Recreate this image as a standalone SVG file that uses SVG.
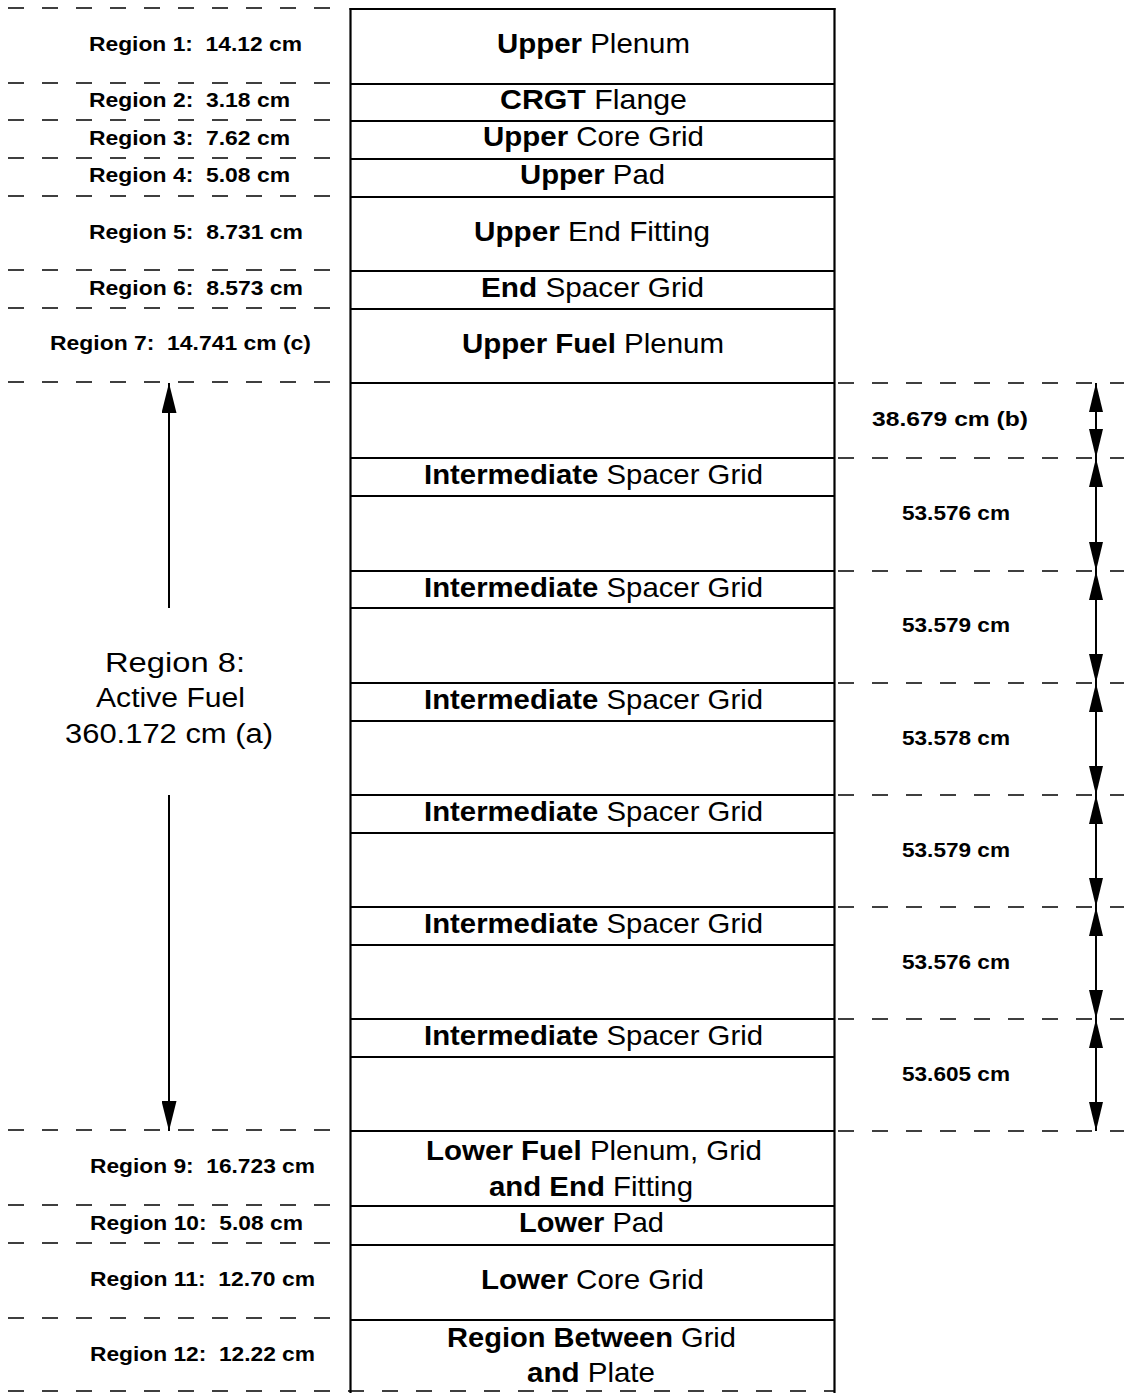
<svg xmlns="http://www.w3.org/2000/svg" width="1124" height="1393" viewBox="0 0 1124 1393">
<style>
text { font-family: "Liberation Sans", Arial, sans-serif; fill: #000; white-space: pre; }
.c { font-size: 28px; }
.b { font-weight: bold; }
.l { font-size: 21px; font-weight: bold; }
.r8 { font-size: 27px; }
.box { fill: none; stroke: #000; stroke-width: 2.2; }
.sep { stroke: #000; stroke-width: 2.2; }
.dash { stroke: #000; stroke-width: 1.5; stroke-dasharray: 16 18; fill: none; }
.arr { stroke: #000; stroke-width: 2; fill: none; }
</style>
<defs>
<marker id="ah" viewBox="0 0 29 14" refX="29" refY="7" markerWidth="29" markerHeight="14" markerUnits="userSpaceOnUse" orient="auto-start-reverse">
<path d="M0,0 L29,7 L0,14 z" fill="#000"/>
</marker>
<marker id="ahL" viewBox="0 0 30 15" refX="30" refY="7.5" markerWidth="30" markerHeight="15" markerUnits="userSpaceOnUse" orient="auto-start-reverse">
<path d="M0,0 L30,7.5 L0,15 z" fill="#000"/>
</marker>
</defs>

<g id="guides">
<line class="dash" x1="8" y1="8" x2="336" y2="8"/>
<line class="dash" x1="8" y1="83" x2="336" y2="83"/>
<line class="dash" x1="8" y1="120" x2="336" y2="120"/>
<line class="dash" x1="8" y1="158" x2="336" y2="158"/>
<line class="dash" x1="8" y1="196" x2="336" y2="196"/>
<line class="dash" x1="8" y1="270" x2="336" y2="270"/>
<line class="dash" x1="8" y1="308" x2="336" y2="308"/>
<line class="dash" x1="8" y1="382" x2="336" y2="382"/>
<line class="dash" x1="8" y1="1130" x2="336" y2="1130"/>
<line class="dash" x1="8" y1="1205" x2="336" y2="1205"/>
<line class="dash" x1="8" y1="1243" x2="336" y2="1243"/>
<line class="dash" x1="8" y1="1318" x2="336" y2="1318"/>
<line class="dash" x1="8" y1="1391" x2="834" y2="1391"/>
<line class="dash" x1="838" y1="383" x2="1124" y2="383"/>
<line class="dash" x1="838" y1="458" x2="1124" y2="458"/>
<line class="dash" x1="838" y1="571" x2="1124" y2="571"/>
<line class="dash" x1="838" y1="683" x2="1124" y2="683"/>
<line class="dash" x1="838" y1="795" x2="1124" y2="795"/>
<line class="dash" x1="838" y1="907" x2="1124" y2="907"/>
<line class="dash" x1="838" y1="1019" x2="1124" y2="1019"/>
<line class="dash" x1="838" y1="1131" x2="1124" y2="1131"/>
</g>

<g id="column">
<line class="sep" x1="350.5" y1="8" x2="350.5" y2="1393"/>
<line class="sep" x1="834.5" y1="8" x2="834.5" y2="1393"/>
<line class="sep" x1="349.5" y1="9" x2="835.5" y2="9"/>
</g>

<g id="n1"><line class="sep" x1="350" y1="84" x2="835" y2="84"/><text class="c" x="497" y="53" textLength="193" lengthAdjust="spacingAndGlyphs"><tspan class="b">Upper</tspan> Plenum</text></g>
<g id="n2"><line class="sep" x1="350" y1="121" x2="835" y2="121"/><text class="c" x="500" y="109" textLength="187" lengthAdjust="spacingAndGlyphs"><tspan class="b">CRGT</tspan> Flange</text></g>
<g id="n3"><line class="sep" x1="350" y1="159" x2="835" y2="159"/><text class="c" x="483" y="146" textLength="221" lengthAdjust="spacingAndGlyphs"><tspan class="b">Upper</tspan> Core Grid</text></g>
<g id="n4"><line class="sep" x1="350" y1="197" x2="835" y2="197"/><text class="c" x="520" y="184" textLength="145" lengthAdjust="spacingAndGlyphs"><tspan class="b">Upper</tspan> Pad</text></g>
<g id="n5"><line class="sep" x1="350" y1="271" x2="835" y2="271"/><text class="c" x="474" y="241" textLength="236" lengthAdjust="spacingAndGlyphs"><tspan class="b">Upper</tspan> End Fitting</text></g>
<g id="n6"><line class="sep" x1="350" y1="309" x2="835" y2="309"/><text class="c" x="481" y="297" textLength="223" lengthAdjust="spacingAndGlyphs"><tspan class="b">End</tspan> Spacer Grid</text></g>
<g id="n7"><line class="sep" x1="350" y1="383" x2="835" y2="383"/><text class="c" x="462" y="353" textLength="262" lengthAdjust="spacingAndGlyphs"><tspan class="b">Upper Fuel</tspan> Plenum</text></g>

<g id="grid1"><line class="sep" x1="350" y1="458" x2="835" y2="458"/><line class="sep" x1="350" y1="496" x2="835" y2="496"/><text class="c" x="424" y="484" textLength="339" lengthAdjust="spacingAndGlyphs"><tspan class="b">Intermediate</tspan> Spacer Grid</text></g>
<g id="grid2"><line class="sep" x1="350" y1="571" x2="835" y2="571"/><line class="sep" x1="350" y1="608" x2="835" y2="608"/><text class="c" x="424" y="597" textLength="339" lengthAdjust="spacingAndGlyphs"><tspan class="b">Intermediate</tspan> Spacer Grid</text></g>
<g id="grid3"><line class="sep" x1="350" y1="683" x2="835" y2="683"/><line class="sep" x1="350" y1="721" x2="835" y2="721"/><text class="c" x="424" y="709" textLength="339" lengthAdjust="spacingAndGlyphs"><tspan class="b">Intermediate</tspan> Spacer Grid</text></g>
<g id="grid4"><line class="sep" x1="350" y1="795" x2="835" y2="795"/><line class="sep" x1="350" y1="833" x2="835" y2="833"/><text class="c" x="424" y="821" textLength="339" lengthAdjust="spacingAndGlyphs"><tspan class="b">Intermediate</tspan> Spacer Grid</text></g>
<g id="grid5"><line class="sep" x1="350" y1="907" x2="835" y2="907"/><line class="sep" x1="350" y1="945" x2="835" y2="945"/><text class="c" x="424" y="933" textLength="339" lengthAdjust="spacingAndGlyphs"><tspan class="b">Intermediate</tspan> Spacer Grid</text></g>
<g id="grid6"><line class="sep" x1="350" y1="1019" x2="835" y2="1019"/><line class="sep" x1="350" y1="1057" x2="835" y2="1057"/><text class="c" x="424" y="1045" textLength="339" lengthAdjust="spacingAndGlyphs"><tspan class="b">Intermediate</tspan> Spacer Grid</text></g>

<g id="n9"><line class="sep" x1="350" y1="1131" x2="835" y2="1131"/><text class="c" x="426" y="1160" textLength="336" lengthAdjust="spacingAndGlyphs"><tspan class="b">Lower Fuel</tspan> Plenum, Grid</text><text class="c" x="489" y="1196" textLength="204" lengthAdjust="spacingAndGlyphs"><tspan class="b">and End</tspan> Fitting</text></g>
<g id="n10"><line class="sep" x1="350" y1="1206" x2="835" y2="1206"/><text class="c" x="519" y="1232" textLength="145" lengthAdjust="spacingAndGlyphs"><tspan class="b">Lower</tspan> Pad</text></g>
<g id="n11"><line class="sep" x1="350" y1="1245" x2="835" y2="1245"/><text class="c" x="481" y="1289" textLength="223" lengthAdjust="spacingAndGlyphs"><tspan class="b">Lower</tspan> Core Grid</text></g>
<g id="n12"><line class="sep" x1="350" y1="1320" x2="835" y2="1320"/><text class="c" x="447" y="1347" textLength="289" lengthAdjust="spacingAndGlyphs"><tspan class="b">Region Between</tspan> Grid</text><text class="c" x="527" y="1382" textLength="128" lengthAdjust="spacingAndGlyphs"><tspan class="b">and</tspan> Plate</text></g>

<g id="left-labels">
<text class="l" x="89" y="51" textLength="213" lengthAdjust="spacingAndGlyphs">Region 1:  14.12 cm</text>
<text class="l" x="89" y="107" textLength="201" lengthAdjust="spacingAndGlyphs">Region 2:  3.18 cm</text>
<text class="l" x="89" y="145" textLength="201" lengthAdjust="spacingAndGlyphs">Region 3:  7.62 cm</text>
<text class="l" x="89" y="182" textLength="201" lengthAdjust="spacingAndGlyphs">Region 4:  5.08 cm</text>
<text class="l" x="89" y="239" textLength="214" lengthAdjust="spacingAndGlyphs">Region 5:  8.731 cm</text>
<text class="l" x="89" y="295" textLength="214" lengthAdjust="spacingAndGlyphs">Region 6:  8.573 cm</text>
<text class="l" x="50" y="350" textLength="261" lengthAdjust="spacingAndGlyphs">Region 7:  14.741 cm (c)</text>
<text class="l" x="90" y="1173" textLength="225" lengthAdjust="spacingAndGlyphs">Region 9:  16.723 cm</text>
<text class="l" x="90" y="1230" textLength="213" lengthAdjust="spacingAndGlyphs">Region 10:  5.08 cm</text>
<text class="l" x="90" y="1286" textLength="225" lengthAdjust="spacingAndGlyphs">Region 11:  12.70 cm</text>
<text class="l" x="90" y="1361" textLength="225" lengthAdjust="spacingAndGlyphs">Region 12:  12.22 cm</text>
</g>

<g id="region8">
<text class="r8" x="105" y="672" textLength="140" lengthAdjust="spacingAndGlyphs">Region 8:</text>
<text class="r8" x="96" y="707" textLength="149" lengthAdjust="spacingAndGlyphs">Active Fuel</text>
<text class="r8" x="65" y="743" textLength="208" lengthAdjust="spacingAndGlyphs">360.172 cm (a)</text>
</g>

<g id="right-labels">
<text class="l" x="872" y="426" textLength="156" lengthAdjust="spacingAndGlyphs">38.679 cm (b)</text>
<text class="l" x="902" y="520" textLength="108" lengthAdjust="spacingAndGlyphs">53.576 cm</text>
<text class="l" x="902" y="632" textLength="108" lengthAdjust="spacingAndGlyphs">53.579 cm</text>
<text class="l" x="902" y="745" textLength="108" lengthAdjust="spacingAndGlyphs">53.578 cm</text>
<text class="l" x="902" y="857" textLength="108" lengthAdjust="spacingAndGlyphs">53.579 cm</text>
<text class="l" x="902" y="969" textLength="108" lengthAdjust="spacingAndGlyphs">53.576 cm</text>
<text class="l" x="902" y="1081" textLength="108" lengthAdjust="spacingAndGlyphs">53.605 cm</text>
</g>

<g id="connectors">
<line class="arr" x1="169" y1="608" x2="169" y2="383" stroke-width="2.5" marker-end="url(#ahL)"/>
<line class="arr" x1="169" y1="795" x2="169" y2="1131" stroke-width="2.5" marker-end="url(#ahL)"/>
<line class="arr" x1="1096" y1="383" x2="1096" y2="458" marker-start="url(#ah)" marker-end="url(#ah)"/>
<line class="arr" x1="1096" y1="458" x2="1096" y2="571" marker-start="url(#ah)" marker-end="url(#ah)"/>
<line class="arr" x1="1096" y1="571" x2="1096" y2="683" marker-start="url(#ah)" marker-end="url(#ah)"/>
<line class="arr" x1="1096" y1="683" x2="1096" y2="795" marker-start="url(#ah)" marker-end="url(#ah)"/>
<line class="arr" x1="1096" y1="795" x2="1096" y2="907" marker-start="url(#ah)" marker-end="url(#ah)"/>
<line class="arr" x1="1096" y1="907" x2="1096" y2="1019" marker-start="url(#ah)" marker-end="url(#ah)"/>
<line class="arr" x1="1096" y1="1019" x2="1096" y2="1131" marker-start="url(#ah)" marker-end="url(#ah)"/>
</g>
</svg>
